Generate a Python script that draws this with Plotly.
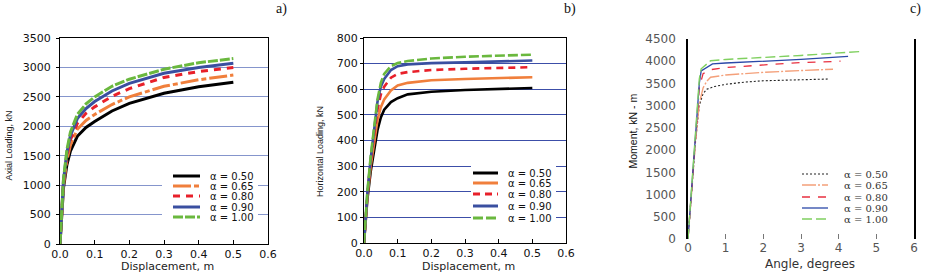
import plotly.graph_objects as go

W, H = 928, 273

# ---------------- data ----------------
labels = ["α = 0.50", "α = 0.65", "α = 0.80", "α = 0.90", "α = 1.00"]

# Panel a: axial loading (kN) vs displacement (m)
a_x = [0, 0.005, 0.01, 0.02, 0.03, 0.05, 0.075, 0.1, 0.15, 0.2, 0.3, 0.4, 0.5]
a_050 = [0, 500, 950, 1350, 1580, 1830, 1980, 2080, 2260, 2390, 2560, 2670, 2750]
a_065 = [0, 520, 1000, 1430, 1680, 1950, 2100, 2200, 2370, 2500, 2680, 2790, 2870]
a_080 = [0, 540, 1050, 1500, 1770, 2050, 2220, 2330, 2510, 2640, 2830, 2930, 3000]
a_090 = [0, 560, 1080, 1560, 1840, 2130, 2300, 2420, 2600, 2730, 2900, 3000, 3070]
a_100 = [0, 580, 1100, 1600, 1900, 2200, 2380, 2500, 2680, 2800, 2970, 3080, 3150]

# Panel b: horizontal loading (kN) vs displacement (m)
b_x = [0, 0.005, 0.01, 0.02, 0.03, 0.04, 0.05, 0.06, 0.08, 0.1, 0.13, 0.2, 0.3, 0.4, 0.5]
b_050 = [0, 90, 170, 280, 370, 440, 490, 520, 550, 565, 580, 590, 597, 601, 605]
b_065 = [0, 95, 180, 300, 400, 480, 530, 560, 595, 615, 625, 635, 640, 644, 647]
b_080 = [0, 100, 190, 320, 430, 520, 580, 610, 645, 660, 667, 675, 680, 683, 686]
b_090 = [0, 100, 195, 330, 450, 550, 610, 640, 675, 690, 697, 702, 705, 708, 712]
b_100 = [0, 105, 200, 340, 460, 560, 625, 660, 690, 702, 710, 720, 727, 731, 735]

# Panel c: moment (kN-m) vs angle (degrees)
c_x_050 = [0, 0.1, 0.2, 0.3, 0.4, 0.5, 0.7, 1, 1.5, 2, 3, 3.75]
c_050 = [0, 1100, 2200, 3000, 3270, 3370, 3430, 3480, 3530, 3560, 3590, 3600]
c_x_065 = [0, 0.1, 0.2, 0.3, 0.4, 0.5, 0.6, 1, 2, 3, 3.85]
c_065 = [0, 1100, 2200, 3050, 3400, 3550, 3640, 3690, 3750, 3790, 3820]
c_x_080 = [0, 0.1, 0.2, 0.3, 0.4, 0.6, 1, 2, 3, 4.05]
c_080 = [0, 1150, 2300, 3400, 3720, 3810, 3860, 3920, 3970, 4000]
c_x_090 = [0, 0.1, 0.2, 0.3, 0.35, 0.65, 1, 2, 3, 4.25]
c_090 = [0, 1200, 2400, 3500, 3780, 3940, 3960, 4000, 4040, 4110]
c_x_100 = [0, 0.1, 0.2, 0.3, 0.35, 0.6, 1, 2, 3, 4.6]
c_100 = [0, 1250, 2500, 3600, 3830, 4010, 4040, 4080, 4130, 4220]

# ---------------- styles ----------------
ab_colors = ["#000000", "#f07f3c", "#e8202a", "#3a4fa0", "#6ab83e"]
a_dash = ["solid", "18px,3px,5px,3px", "7px,6px", "solid", "10px,2px"]
b_dash = ["solid", "solid", "7px,5px", "solid", "10px,3px"]
c_colors = ["#222222", "#f4a07a", "#e83040", "#2a48a8", "#80d060"]
c_dash = ["2px,2px", "14px,2px,2px,2px", "8px,8px", "solid", "10px,4px"]
c_width = [1.1, 1.4, 1.3, 1.3, 1.4]

fig = go.Figure()

a_sets = [a_050, a_065, a_080, a_090, a_100]
for i, ys in enumerate(a_sets):
    fig.add_trace(go.Scatter(x=a_x, y=ys, mode="lines", xaxis="x", yaxis="y",
                             line=dict(color=ab_colors[i], width=3, dash=a_dash[i]),
                             showlegend=False, name=labels[i]))
b_sets = [b_050, b_065, b_080, b_090, b_100]
for i, ys in enumerate(b_sets):
    fig.add_trace(go.Scatter(x=b_x, y=ys, mode="lines", xaxis="x2", yaxis="y2",
                             line=dict(color=ab_colors[i], width=2.6, dash=b_dash[i]),
                             showlegend=False, name=labels[i]))
c_sets = [(c_x_050, c_050), (c_x_065, c_065), (c_x_080, c_080), (c_x_090, c_090), (c_x_100, c_100)]
for i, (xs, ys) in enumerate(c_sets):
    fig.add_trace(go.Scatter(x=xs, y=ys, mode="lines", xaxis="x3", yaxis="y3",
                             line=dict(color=c_colors[i], width=c_width[i], dash=c_dash[i]),
                             showlegend=False, name=labels[i]))


def px(v):
    return v / W


def py(v):
    return 1 - v / H


tickfont_ab = dict(family="DejaVu Sans", size=11, color="#111111")
tickfont_c = dict(family="DejaVu Sans", size=12, color="#555555")

common_x_ab = dict(range=[0, 0.6], dtick=0.1, tickformat=".1f", showgrid=False, zeroline=False,
                   showline=True, linecolor="black", linewidth=1, mirror=True, automargin=False,
                   ticks="inside", ticklen=4, tickcolor="black", tickfont=tickfont_ab)

fig.update_layout(
    width=W, height=H, margin=dict(l=0, r=0, t=0, b=0, autoexpand=False),
    paper_bgcolor="white", plot_bgcolor="white", showlegend=False,
    xaxis=dict(domain=[px(60), px(268)], anchor="y", **common_x_ab),
    yaxis=dict(domain=[py(244), py(38)], anchor="x", range=[0, 3500], dtick=500,
               showgrid=True, gridcolor="#8595cc", gridwidth=1, zeroline=False,
               showline=True, linecolor="black", linewidth=1, mirror=True, automargin=False,
               ticks="outside", ticklen=3, tickcolor="black", tickfont=tickfont_ab,
               ticklabelstandoff=3),
    xaxis2=dict(domain=[px(364), px(566)], anchor="y2", **common_x_ab),
    yaxis2=dict(domain=[py(243), py(38)], anchor="x2", range=[0, 800], dtick=100,
                showgrid=True, gridcolor="#3c4ea8", gridwidth=1, zeroline=False,
                showline=True, linecolor="black", linewidth=1, mirror=True, automargin=False,
                ticks="outside", ticklen=3, tickcolor="black", tickfont=tickfont_ab),
    xaxis3=dict(domain=[px(688), px(914)], anchor="y3", range=[0, 6], dtick=1,
                showgrid=False, zeroline=False, showline=False, automargin=False,
                ticks="inside", ticklen=5, tickcolor="#777777", tickfont=tickfont_c),
    yaxis3=dict(domain=[py(239), py(39)], anchor="x3", range=[0, 4500], dtick=500,
                showgrid=False, zeroline=False, showline=True, linecolor="black",
                linewidth=1.5, mirror=True, ticks="", tickfont=tickfont_c, automargin=False,
                ticklabelstandoff=8),
)

shapes = []
annotations = []

# legend backgrounds (panels a and b)
shapes.append(dict(type="rect", xref="paper", yref="paper", x0=px(162), x1=px(258),
                   y0=py(222), y1=py(170), fillcolor="white", line=dict(width=0), layer="above"))
shapes.append(dict(type="rect", xref="paper", yref="paper", x0=px(471), x1=px(556),
                   y0=py(223), y1=py(163), fillcolor="white", line=dict(width=0), layer="above"))

legend_specs = [
    (173, 200, 209, [176, 186, 196, 207, 217], a_dash, ab_colors, [3] * 5,
     dict(family="DejaVu Sans", size=10, color="#111111")),
    (473, 498, 507, [173, 183, 194, 206, 218], b_dash, ab_colors, [3] * 5,
     dict(family="DejaVu Sans", size=10, color="#111111")),
    (802, 828, 843, [174, 185, 197, 208, 219], c_dash, c_colors, c_width,
     dict(family="DejaVu Serif", size=10, color="#333333")),
]
for x0, x1, tx, rows, dashes, cols, wids, font in legend_specs:
    for i, ry in enumerate(rows):
        shapes.append(dict(type="line", xref="paper", yref="paper", x0=px(x0), x1=px(x1),
                           y0=py(ry), y1=py(ry), layer="above",
                           line=dict(color=cols[i], width=wids[i], dash=dashes[i])))
        annotations.append(dict(xref="paper", yref="paper", x=px(tx), y=py(ry), text=labels[i],
                                showarrow=False, xanchor="left", yanchor="middle", font=font,
                                borderpad=0))

# axis titles
narrow = "Liberation Sans Narrow, Liberation Sans, Arial"
annotations += [
    dict(xref="paper", yref="paper", x=px(8.5), y=py(146), text="Axial Loading, kN", textangle=-90,
         showarrow=False, xanchor="center", yanchor="middle", font=dict(family=narrow, size=9, color="#222")),
    dict(xref="paper", yref="paper", x=px(320), y=py(152), text="Horizontal Loading, kN", textangle=-90,
         showarrow=False, xanchor="center", yanchor="middle", font=dict(family=narrow, size=9, color="#222")),
    dict(xref="paper", yref="paper", x=px(632.5), y=py(131), text="Moment, kN - m", textangle=-90,
         showarrow=False, xanchor="center", yanchor="middle", font=dict(family=narrow, size=10.5, color="#111")),
    dict(xref="paper", yref="paper", x=px(167), y=py(266), text="Displacement, m",
         showarrow=False, xanchor="center", yanchor="middle", font=dict(family="DejaVu Sans", size=11, color="#222")),
    dict(xref="paper", yref="paper", x=px(468), y=py(266), text="Displacement, m",
         showarrow=False, xanchor="center", yanchor="middle", font=dict(family="DejaVu Sans", size=11, color="#222")),
    dict(xref="paper", yref="paper", x=px(810), y=py(264), text="Angle, degrees",
         showarrow=False, xanchor="center", yanchor="middle", font=dict(family="DejaVu Sans", size=12, color="#333")),
    dict(xref="paper", yref="paper", x=px(281), y=py(9), text="a)",
         showarrow=False, xanchor="center", yanchor="middle", font=dict(family="Liberation Serif", size=14, color="#111")),
    dict(xref="paper", yref="paper", x=px(570), y=py(9), text="b)",
         showarrow=False, xanchor="center", yanchor="middle", font=dict(family="Liberation Serif", size=14, color="#111")),
    dict(xref="paper", yref="paper", x=px(915), y=py(9), text="c)",
         showarrow=False, xanchor="center", yanchor="middle", font=dict(family="Liberation Serif", size=14, color="#111")),
]

fig.update_layout(shapes=shapes, annotations=annotations)
fig.write_html("out.html", config={"displayModeBar": False},
               post_script="document.body.style.margin='0';document.body.style.padding='0';")
